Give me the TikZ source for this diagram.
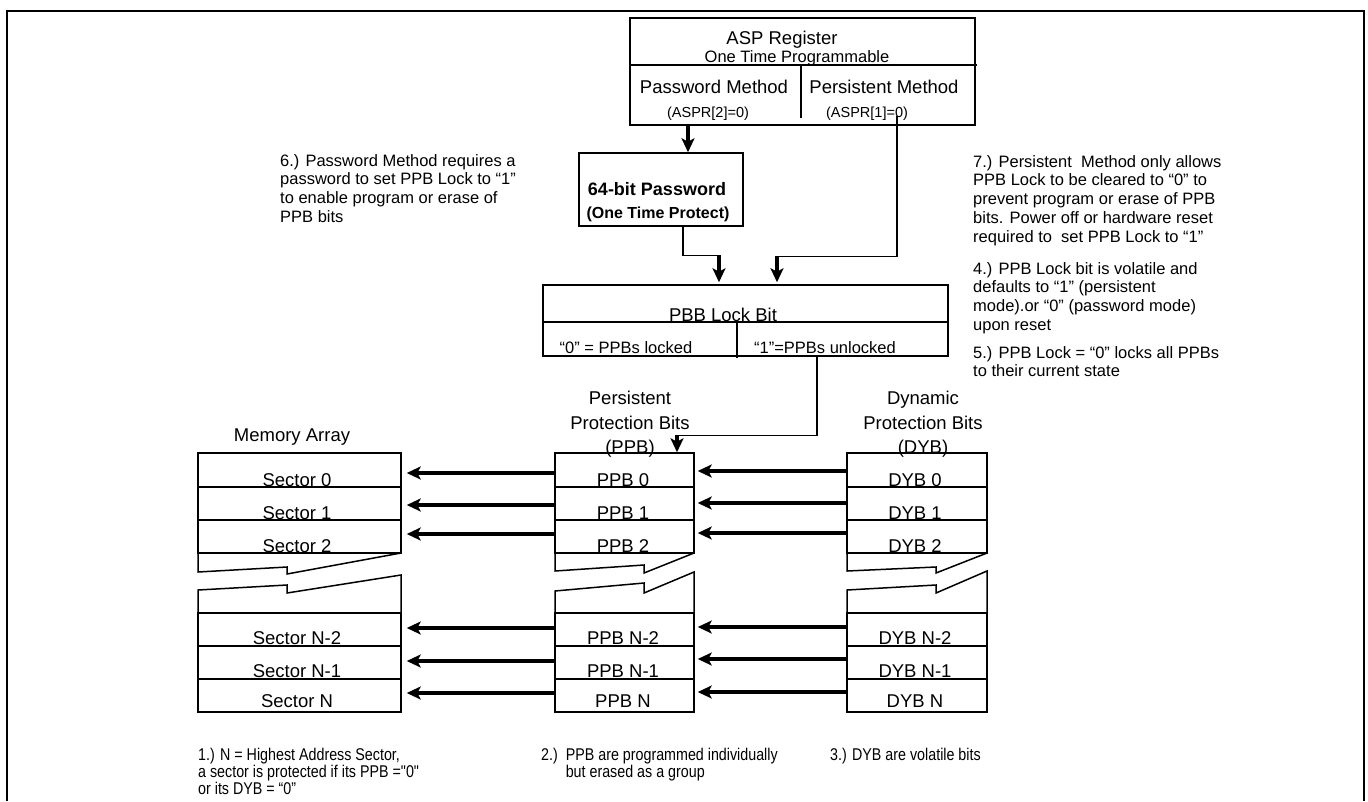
\documentclass[tikz,border=0pt]{standalone}
\usepackage{fontspec}
\setmainfont{Liberation Sans}
\newfontfamily\narrowsans{Liberation Sans}[FakeStretch=0.84]
\usetikzlibrary{arrows.meta}
\begin{document}
\begin{tikzpicture}[x=1pt,y=-1pt,
  box/.style={draw, line width=1.5pt, rectangle, inner sep=0pt},
  big/.style={font=\fontsize{18.5}{22}\selectfont, inner sep=0pt},
  mid/.style={font=\fontsize{16.5}{19}\selectfont, inner sep=0pt},
  small/.style={font=\fontsize{14.5}{17}\selectfont, inner sep=0pt},
  head/.style={font=\fontsize{18.5}{24.5}\selectfont, inner sep=0pt, align=center, anchor=north},
  note/.style={font=\fontsize{16.5}{18.8}\selectfont, inner sep=0pt, align=left, anchor=north west},
  bnote/.style={font=\narrowsans\fontsize{17}{17}\selectfont, inner sep=0pt, align=left, anchor=north west},
  conn/.style={line width=1.5pt},
  tarr/.style={line width=3.6pt, -{Stealth[length=14pt,width=13pt,inset=3.5pt]}},
  brk/.style={line width=1.5pt, line join=miter},
  memrow/.style={box, minimum width=203pt, minimum height=33pt},
  ppbrow/.style={box, minimum width=139pt, minimum height=33pt},
  dybrow/.style={box, minimum width=140pt, minimum height=33pt},
  rowlbl/.style={big, anchor=base},
]
\useasboundingbox (0,0) rectangle (1368,801);
% outer frame
\draw[line width=2.2pt] (7,801) -- (7,11) -- (1364,11) -- (1364,801);

% ASP register
\node[box, minimum width=345pt, minimum height=107pt] (asp) at (802.5,71.5) {};
\draw[conn] (630,65) -- (977,65);
\draw[conn] (801,65) -- (801,118);
\node[big, anchor=base] (aspt) at (782,44) {ASP Register};
\node[mid, anchor=base] (otp) at (797,62.5) {One Time Programmable};
\node[big, anchor=base] (pmeth) at (714,93.5) {Password Method};
\node[big, anchor=base] (prmeth) at (884,93.5) {Persistent Method};
\node[small, anchor=base] (aspr2) at (708,117) {(ASPR[2]=0)};
\node[small, anchor=base] (aspr1) at (867,117) {(ASPR[1]=0)};

% 64-bit password
\node[box, minimum width=164pt, minimum height=73pt] (pw) at (661,189.5) {};
\node[font=\bfseries\fontsize{18}{20}\selectfont, inner sep=0pt, anchor=base] (pwt) at (657,195) {64-bit Password};
\node[font=\bfseries\fontsize{16}{18}\selectfont, inner sep=0pt, anchor=base] (pwt2) at (658,218) {(One Time Protect)};

% PBB lock bit
\node[box, minimum width=405pt, minimum height=71pt] (pbb) at (745.5,320.5) {};
\draw[conn] (543,322) -- (948,322);
\draw[conn] (737,322) -- (737,358);
\node[big, anchor=base] (pbbt) at (723,321) {PBB Lock Bit};
\node[mid, anchor=base] (lk0) at (626,353) {“0” = PPBs locked};
\node[mid, anchor=base] (lk1) at (825,353) {“1”=PPBs unlocked};

% headers
\node[big, anchor=base] (hmem) at (292,441.5) {Memory Array};
\node[head] (hppb) at (630,391) {Persistent\\Protection Bits\\(PPB)};
\node[head] (hdyb) at (923,391) {Dynamic\\Protection Bits\\(DYB)};

% memory rows
\node[memrow, minimum height=34pt] (sec0) at (299.5,470) {};
\node[memrow] (sec1) at (299.5,503.5) {};
\node[memrow] (sec2) at (299.5,536.5) {};
\node[memrow] (secN2) at (299.5,629.5) {};
\node[memrow] (secN1) at (299.5,662.5) {};
\node[memrow] (secN) at (299.5,695.5) {};
\node[rowlbl] at ([xshift=-2.5pt,yshift=1.5pt]sec0.south) {Sector 0};
\node[rowlbl] at ([xshift=-2.5pt,yshift=1.5pt]sec1.south) {Sector 1};
\node[rowlbl] at ([xshift=-2.5pt,yshift=1.5pt]sec2.south) {Sector 2};
\node[rowlbl] at ([xshift=-2.5pt,yshift=2pt]secN2.south) {Sector N-2};
\node[rowlbl] at ([xshift=-2.5pt,yshift=2pt]secN1.south) {Sector N-1};
\node[rowlbl] at ([xshift=-2.5pt,yshift=5pt]secN.south) {Sector N};

% PPB rows
\node[ppbrow, minimum height=34pt] (ppb0) at (624.5,470) {};
\node[ppbrow] (ppb1) at (624.5,503.5) {};
\node[ppbrow] (ppb2) at (624.5,536.5) {};
\node[ppbrow] (ppbN2) at (624.5,629.5) {};
\node[ppbrow] (ppbN1) at (624.5,662.5) {};
\node[ppbrow] (ppbN) at (624.5,695.5) {};
\node[rowlbl] at ([xshift=-1.5pt,yshift=1.5pt]ppb0.south) {PPB 0};
\node[rowlbl] at ([xshift=-1.5pt,yshift=1.5pt]ppb1.south) {PPB 1};
\node[rowlbl] at ([xshift=-1.5pt,yshift=1.5pt]ppb2.south) {PPB 2};
\node[rowlbl] at ([xshift=-1.5pt,yshift=2pt]ppbN2.south) {PPB N-2};
\node[rowlbl] at ([xshift=-1.5pt,yshift=2pt]ppbN1.south) {PPB N-1};
\node[rowlbl] at ([xshift=-1.5pt,yshift=5pt]ppbN.south) {PPB N};

% DYB rows
\node[dybrow, minimum height=34pt] (dyb0) at (917,470) {};
\node[dybrow] (dyb1) at (917,503.5) {};
\node[dybrow] (dyb2) at (917,536.5) {};
\node[dybrow] (dybN2) at (917,629.5) {};
\node[dybrow] (dybN1) at (917,662.5) {};
\node[dybrow] (dybN) at (917,695.5) {};
\node[rowlbl] at ([xshift=-2pt,yshift=1.5pt]dyb0.south) {DYB 0};
\node[rowlbl] at ([xshift=-2pt,yshift=1.5pt]dyb1.south) {DYB 1};
\node[rowlbl] at ([xshift=-2pt,yshift=1.5pt]dyb2.south) {DYB 2};
\node[rowlbl] at ([xshift=-2pt,yshift=2pt]dybN2.south) {DYB N-2};
\node[rowlbl] at ([xshift=-2pt,yshift=2pt]dybN1.south) {DYB N-1};
\node[rowlbl] at ([xshift=-2pt,yshift=5pt]dybN.south) {DYB N};

% break marks
\draw[brk] (198,553) -- (198,572) -- (287,567) -- (287,574) -- (401,553);
\draw[brk] (198,613) -- (198,590) -- (287,585) -- (287,593) -- (401,575) -- (401,613);
\draw[brk] (555,553) -- (555,571) -- (644,565) -- (644,573) -- (694,553);
\draw[brk] (555,613) -- (555,591) -- (644,583) -- (644,593) -- (694,572) -- (694,613);
\draw[brk] (847,553) -- (847,571) -- (936,567) -- (936,573) -- (987,553);
\draw[brk] (847,613) -- (847,590) -- (936,585) -- (936,593) -- (987,571) -- (987,613);

% connectors from ASP register
\draw[tarr] ([xshift=27pt]pw.north |- asp.south) -- ([xshift=27pt]pw.north);
\coordinate (k1) at ([xshift=-26.5pt,yshift=29pt]pbb.north);
\draw[conn] ([xshift=22pt]pw.south) |- (k1);
\draw[tarr] (k1) -- ([xshift=-26.5pt,yshift=2pt]pbb.north);
\coordinate (k2) at ([xshift=31.5pt,yshift=28pt]pbb.north);
\draw[conn] ([xshift=94.5pt,yshift=10pt]asp.south) |- (k2);
\draw[tarr] (k2) -- ([xshift=31.5pt,yshift=2pt]pbb.north);
\coordinate (k3) at ([xshift=52.5pt,yshift=17pt]ppb0.north);
\draw[conn] ([xshift=71.5pt]pbb.south) |- (k3);
\draw[tarr] (k3) -- ([xshift=52.5pt]ppb0.north);

% row arrows PPB -> memory
\draw[tarr] ([yshift=-3pt]ppb0.west) -- ([xshift=5pt,yshift=-3pt]sec0.east);
\draw[tarr] ([yshift=-1.5pt]ppb1.west) -- ([xshift=5pt,yshift=-1.5pt]sec1.east);
\draw[tarr] ([yshift=2.5pt]ppb2.west) -- ([xshift=5pt,yshift=2.5pt]sec2.east);
\draw[tarr] ([yshift=1.5pt]ppbN2.west) -- ([xshift=5pt,yshift=1.5pt]secN2.east);
\draw[tarr] ([yshift=1.5pt]ppbN1.west) -- ([xshift=5pt,yshift=1.5pt]secN1.east);
\draw[tarr] ([yshift=2.5pt]ppbN.west) -- ([xshift=5pt,yshift=2.5pt]secN.east);
% row arrows DYB -> PPB
\draw[tarr] ([yshift=-1pt]dyb0.west) -- ([xshift=3pt,yshift=-1pt]ppb0.east);
\draw[tarr] ([yshift=0.5pt]dyb1.west) -- ([xshift=3pt,yshift=0.5pt]ppb1.east);
\draw[tarr] ([yshift=3.5pt]dyb2.west) -- ([xshift=3pt,yshift=3.5pt]ppb2.east);
\draw[tarr] ([yshift=2.5pt]dybN2.west) -- ([xshift=3pt,yshift=2.5pt]ppbN2.east);
\draw[tarr] ([yshift=3.5pt]dybN1.west) -- ([xshift=3pt,yshift=3.5pt]ppbN1.east);
\draw[tarr] ([yshift=3.5pt]dybN.west) -- ([xshift=3pt,yshift=3.5pt]ppbN.east);

% notes
\node[note] (n6) at (280,154) {6.) Password Method requires a\\password to set PPB Lock to “1”\\to enable program or erase of\\PPB bits};
\node[note] (n7) at (973,155) {7.) Persistent\ \ Method only allows\\PPB Lock to be cleared to “0” to\\prevent program or erase of PPB\\bits. Power off or hardware reset\\required to\ \ set PPB Lock to “1”};
\node[note] (n4) at (973,262) {4.) PPB Lock bit is volatile and\\defaults to “1” (persistent\\mode).or “0” (password mode)\\upon reset};
\node[note] (n5) at (973,346) {5.) PPB Lock = “0” locks all PPBs\\to their current state};
\node[bnote] (n1) at (198,748) {1.) N = Highest Address Sector,\\a sector is protected if its PPB ="0"\\or its DYB = “0”};
\node[bnote] (n2) at (541,748) {2.)\ \ PPB are programmed individually\\\phantom{2.)\ \ }but erased as a group};
\node[bnote] (n3) at (830,748) {3.) DYB are volatile bits};
\end{tikzpicture}
\end{document}
